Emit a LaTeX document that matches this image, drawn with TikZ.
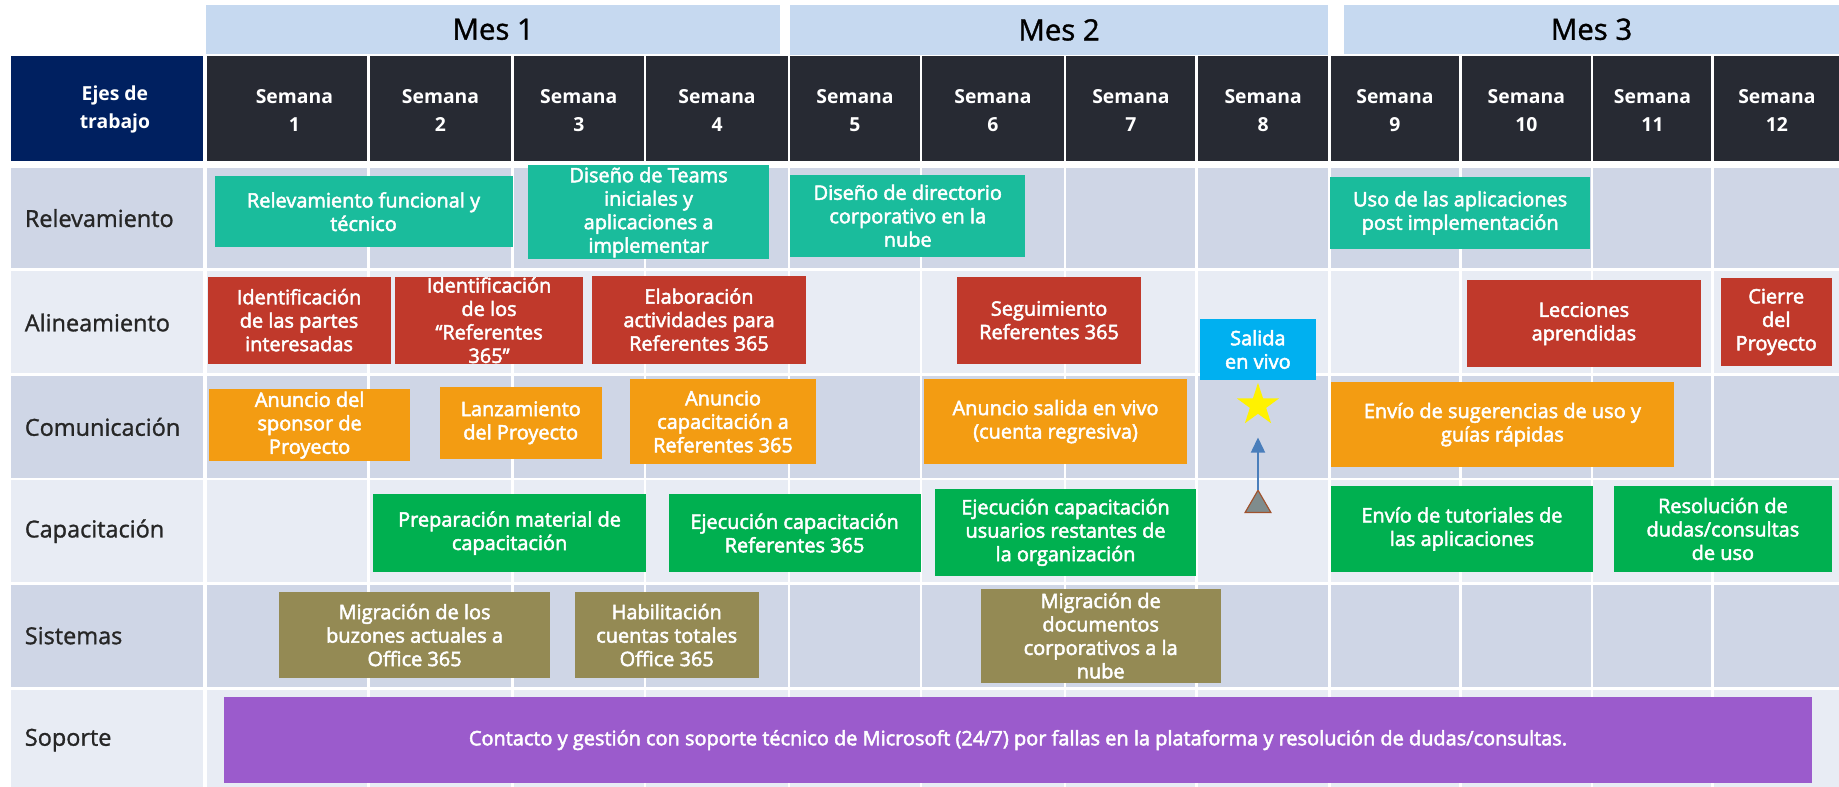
\documentclass[tikz,border=0pt]{standalone}
\usepackage{fontspec}
\setmainfont{Open Sans}
\newfontfamily\boxfont{Open Sans}[FakeBold=2.5]
\newfontfamily\labfont{Open Sans}[FakeBold=1.2]
\usetikzlibrary{shapes.geometric,arrows.meta}
\definecolor{mesblue}{HTML}{C6D9F0}
\definecolor{hdrdark}{HTML}{272A33}
\definecolor{navy}{HTML}{002060}
\definecolor{rowdark}{HTML}{CFD6E6}
\definecolor{rowlight}{HTML}{E8ECF4}
\definecolor{cteal}{HTML}{1ABC9C}
\definecolor{cred}{HTML}{C0392B}
\definecolor{corange}{HTML}{F39C12}
\definecolor{cgreen}{HTML}{00B050}
\definecolor{colive}{HTML}{948A54}
\definecolor{cpurple}{HTML}{9B5BCC}
\definecolor{ccyan}{HTML}{00B0F0}
\definecolor{labgray}{HTML}{262626}
\definecolor{trigray}{HTML}{7F8C8D}
\definecolor{tribrown}{HTML}{A0522D}
\definecolor{arrblue}{HTML}{4A7EBB}
\tikzset{
  boxfill/.style={rectangle, fill=#1, draw=none, inner sep=0pt, outer sep=0pt},
  boxtext/.style={text=white, align=center, inner sep=0pt, font=\boxfont\fontsize{17}{20}\selectfont},
  mestext/.style={text=black, inner sep=0pt, font=\labfont\fontsize{25}{28}\selectfont},
  hdrtext/.style={text=white, align=center, inner sep=0pt, font=\bfseries\fontsize{16.5}{24}\selectfont},
  rowlab/.style={anchor=west, text=labgray, inner sep=0pt, font=\labfont\fontsize{20}{24}\selectfont},
  gridline/.style={white, line width=2.2pt},
  conn/.style={arrblue, line width=1.7pt, -{Triangle[length=13pt,width=12pt]}},
  trishape/.style={fill=trigray, draw=tribrown, line width=1pt, line join=miter},
  starshape/.style={star, star points=5, star point ratio=2.6, fill=yellow, draw=none, minimum size=38pt, inner sep=0pt}
}
\newcommand\tb[7]{%
  \pgfmathsetmacro\tbw{#5-#3}%
  \pgfmathsetmacro\tbh{#6-#4}%
  \pgfmathsetmacro\tbx{(#3+#5)/2}%
  \pgfmathsetmacro\tby{(#4+#6)/2}%
  \node[boxfill=#2, minimum width=\tbw pt, minimum height=\tbh pt] (#1) at (\tbx,\tby) {};
  \node[boxtext] (#1t) at (#1.center) {#7};}
\begin{document}
\begin{tikzpicture}[x=1pt,y=-1pt]
\useasboundingbox (0,0) rectangle (1568,671);
\fill[white] (0,0) rectangle (1568,671);
% month bands
\node[boxfill=mesblue, minimum width=489pt, minimum height=42pt] (m1) at (420.5,25) {};
\node[mestext] (m1t) at (m1.center) {Mes 1};
\node[boxfill=mesblue, minimum width=458pt, minimum height=42pt] (m2) at (903,25.5) {};
\node[mestext] (m2t) at (m2.center) {Mes 2};
\node[boxfill=mesblue, minimum width=422pt, minimum height=42pt] (m3) at (1357,25) {};
\node[mestext] (m3t) at (m3.center) {Mes 3};
% header row
\fill[navy] (9,48) rectangle (173,137);
\fill[hdrdark] (176.5,48) rectangle (1568,137);
\foreach \x in {314.3,437,550,672.8,785.3,908,1020.3,1133.5,1245.3,1357.5,1460.3}
  \draw[gridline] (\x,48) -- (\x,137);
\node[hdrtext] (ejes) at (98,93) {Ejes de\\trabajo};
\node[hdrtext] (w1) at (251,94) {Semana\\1};
\node[hdrtext] (w2) at (375.6,94) {Semana\\2};
\node[hdrtext] (w3) at (493.5,94) {Semana\\3};
\node[hdrtext] (w4) at (611.4,94) {Semana\\4};
\node[hdrtext] (w5) at (729,94) {Semana\\5};
\node[hdrtext] (w6) at (846.6,94) {Semana\\6};
\node[hdrtext] (w7) at (964.2,94) {Semana\\7};
\node[hdrtext] (w8) at (1077,94) {Semana\\8};
\node[hdrtext] (w9) at (1189.4,94) {Semana\\9};
\node[hdrtext] (w10) at (1301.4,94) {Semana\\10};
\node[hdrtext] (w11) at (1409,94) {Semana\\11};
\node[hdrtext] (w12) at (1515,94) {Semana\\12};
% body rows
\fill[rowdark] (9,143) rectangle (1568,228.5);
\fill[rowlight] (9,231) rectangle (1568,318);
\fill[rowdark] (9,320.5) rectangle (1568,407.5);
\fill[rowlight] (9,409.5) rectangle (1568,496);
\fill[rowdark] (9,498.5) rectangle (1568,585.5);
\fill[rowlight] (9,588) rectangle (1568,671);
\fill[white] (173,143) rectangle (176.5,671);
\foreach \x in {314.3,437,550,672.8,785.3,908,1020.3,1133.5,1245.3,1357.5,1460.3}
  \draw[gridline] (\x,143) -- (\x,671);
% row labels
\node[rowlab] (l1) at (21,186) {Relevamiento};
\node[rowlab] (l2) at (21,275) {Alineamiento};
\node[rowlab] (l3) at (21,364) {Comunicación};
\node[rowlab] (l4) at (21,453) {Capacitación};
\node[rowlab] (l5) at (21,542) {Sistemas};
\node[rowlab] (l6) at (21,631) {Soporte};
% Relevamiento
\tb{r1}{cteal}{183}{150}{437}{211}{Relevamiento funcional y\\técnico}
\tb{r2}{cteal}{450}{141}{656}{221}{Diseño de Teams\\iniciales y\\aplicaciones a\\implementar}
\tb{r3}{cteal}{674}{149}{874}{219}{Diseño de directorio\\corporativo en la\\nube}
\tb{r4}{cteal}{1134}{151}{1356}{212}{Uso de las aplicaciones\\post implementación}
% Alineamiento
\tb{a1}{cred}{177}{236}{333}{310}{Identificación\\de las partes\\interesadas}
\tb{a2}{cred}{337}{236}{497}{310}{Identificación\\de los\\“Referentes\\365”}
\tb{a3}{cred}{505}{235}{687}{310}{Elaboración\\actividades para\\Referentes 365}
\tb{a4}{cred}{816}{236}{973}{310}{Seguimiento\\Referentes 365}
\tb{a6}{cred}{1251}{239}{1450}{313}{Lecciones\\aprendidas}
\tb{a7}{cred}{1467}{237}{1562}{312}{Cierre\\del\\Proyecto}
% Comunicacion
\tb{c1}{corange}{178}{332}{350}{393}{Anuncio del\\sponsor de\\Proyecto}
\tb{c2}{corange}{375}{330}{513}{391}{Lanzamiento\\del Proyecto}
\tb{c3}{corange}{537}{323}{696}{396}{Anuncio\\capacitación a\\Referentes 365}
\tb{c4}{corange}{788}{323}{1012}{396}{Anuncio salida en vivo\\(cuenta regresiva)}
\tb{c5}{corange}{1135}{326}{1427}{398}{Envío de sugerencias de uso y\\guías rápidas}
% Salida en vivo
\tb{a5}{ccyan}{1023}{272}{1122}{324}{Salida\\en vivo}
\node[starshape] (star) at (1072.6,345.5) {};
% Capacitacion
\tb{k1}{cgreen}{318}{421}{551}{488}{Preparación material de\\capacitación}
\tb{k2}{cgreen}{570}{421}{785}{488}{Ejecución capacitación\\Referentes 365}
\tb{k3}{cgreen}{797}{417}{1020}{491}{Ejecución capacitación\\usuarios restantes de\\la organización}
\tb{k4}{cgreen}{1135}{414}{1358}{488}{Envío de tutoriales de\\las aplicaciones}
\tb{k5}{cgreen}{1376}{414}{1562}{488}{Resolución de\\dudas/consultas\\de uso}
% triangle and arrow
\coordinate (trA) at (1072.6,418);
\draw[trishape] (1061.6,437) -- (trA) -- (1083.6,437) -- cycle;
\coordinate (arTip) at (1072.6,373);
\draw[conn] (trA) -- (arTip);
% Sistemas
\tb{s1}{colive}{238}{505}{469}{578}{Migración de los\\buzones actuales a\\Office 365}
\tb{s2}{colive}{490}{505}{647}{578}{Habilitación\\cuentas totales\\Office 365}
\tb{s3}{colive}{836}{502}{1041}{582}{Migración de\\documentos\\corporativos a la\\nube}
% Soporte
\tb{p1}{cpurple}{191}{594}{1545}{668}{Contacto y gestión con soporte técnico de Microsoft (24/7) por fallas en la plataforma y resolución de dudas/consultas.}
\end{tikzpicture}
\end{document}
